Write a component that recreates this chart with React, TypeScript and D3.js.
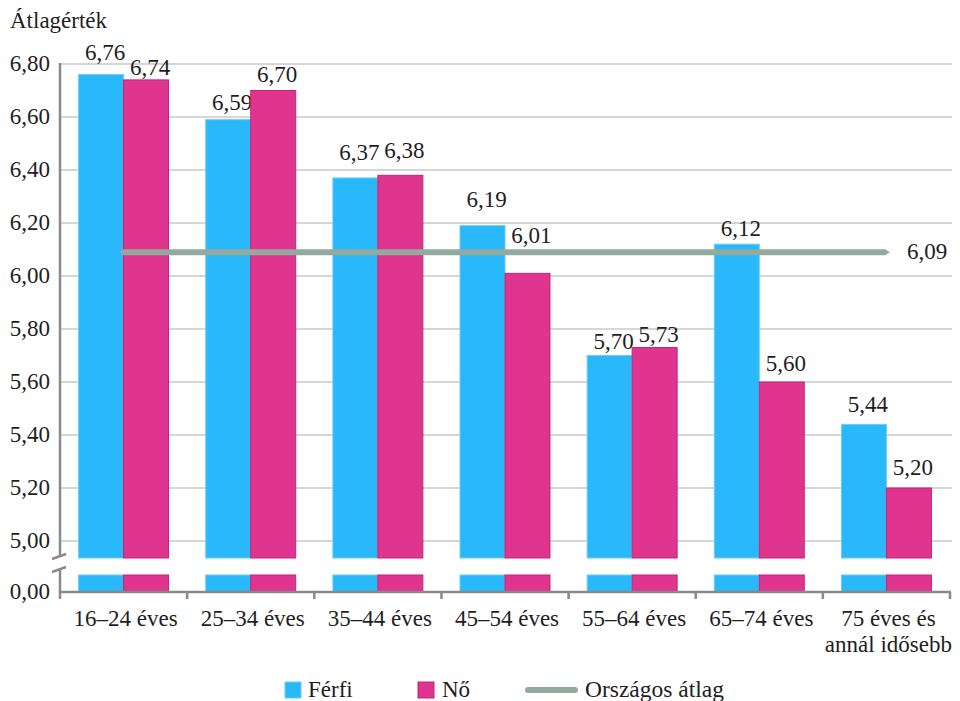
import * as d3 from "d3";

const categories = [
  "16–24 éves",
  "25–34 éves",
  "35–44 éves",
  "45–54 éves",
  "55–64 éves",
  "65–74 éves",
  "75 éves és\nannál idősebb",
];
const ferfi = [6.76, 6.59, 6.37, 6.19, 5.7, 6.12, 5.44];
const no = [6.74, 6.7, 6.38, 6.01, 5.73, 5.6, 5.2];
const orszagosAtlag = 6.09;
const yTicks = [5.0, 5.2, 5.4, 5.6, 5.8, 6.0, 6.2, 6.4, 6.6, 6.8];
const seriesKeys = ["ferfi", "no"];

// label gap above the bar top (the original places some by hand)
const ferfiGap = [15, 10, 18, 19, 7, 8, 12];
const noGap = [5, 9, 17, 30, 6, 11, 13];

const W = 960;
const H = 701;
const left = 60;
const right = 950;
const top = 64;
const base5 = 541; // y of 5,00
const breakTop = 558;
const breakBottom = 575;
const zeroY = 592;

const BLUE = "#29b8fa";
const BLUE_EDGE = "#6acdf8";
const PINK = "#e0358f";
const PINK_EDGE = "#c4237a";
const AVG = "#93aa9f";
const GRID = "#c9c9c9";
const AXIS = "#8a8a8a";
const TEXT = "#1e1e1e";
const FONT = "Liberation Serif, DejaVu Serif, Times New Roman, serif";
const FS = 23;

const fmt = (v: number) => v.toFixed(2).replace(".", ",");

export default function App() {
  const x = d3.scaleBand<string>().domain(categories).range([left, right]);
  const inner = d3
    .scaleBand<string>()
    .domain(seriesKeys)
    .range([0, x.bandwidth()])
    .paddingOuter(0.413);
  const y = d3.scaleLinear().domain([5, 6.8]).range([base5, top]);

  const bars = categories.flatMap((c, i) => [
    { c, key: "ferfi", v: ferfi[i], gap: ferfiGap[i], fill: BLUE, edge: BLUE_EDGE },
    { c, key: "no", v: no[i], gap: noGap[i], fill: PINK, edge: PINK_EDGE },
  ]);

  const mid = (c: string) => (x(c) ?? 0) + x.bandwidth() / 2;
  const avgX0 = mid(categories[0]);
  const avgX1 = mid(categories[categories.length - 1]);
  const avgY = y(orszagosAtlag);

  return (
    <div style={{ position: "absolute", left: 0, top: 0 }}>
      <svg width={W} height={H} style={{ display: "block" }}>
        <rect width={W} height={H} fill="#fff" />
        <g fontFamily={FONT} fontSize={FS} fill={TEXT}>
          {/* grid */}
          {yTicks.map((t) => (
            <line key={t} x1={left} x2={right + 2} y1={y(t)} y2={y(t)} stroke={GRID} strokeWidth={1.3} />
          ))}

          {/* bars: upper part and stub below the break */}
          {bars.map((b) => {
            const bx = (x(b.c) ?? 0) + (inner(b.key) ?? 0);
            const bw = inner.bandwidth();
            return (
              <g key={b.c + b.key}>
                <rect x={bx} y={y(b.v)} width={bw} height={breakTop - y(b.v)} fill={b.fill} stroke={b.edge} strokeWidth={1} />
                <rect x={bx} y={breakBottom} width={bw} height={zeroY - breakBottom} fill={b.fill} stroke={b.edge} strokeWidth={1} />
                <text x={bx + bw / 2 + 4} y={y(b.v) - b.gap} textAnchor="middle">
                  {fmt(b.v)}
                </text>
              </g>
            );
          })}

          {/* national average */}
          <line x1={avgX0} x2={avgX1 - 2} y1={avgY} y2={avgY} stroke={AVG} strokeWidth={6} strokeLinecap="round" />
          <path d={`M${avgX1 - 3},${avgY - 3} L${avgX1 + 4},${avgY} L${avgX1 - 3},${avgY + 3} Z`} fill={AVG} />
          <text x={907} y={avgY + 7}>{fmt(orszagosAtlag)}</text>

          {/* y axis with break */}
          <line x1={left} x2={left} y1={top - 1} y2={breakTop - 1} stroke={AXIS} strokeWidth={2.5} />
          <line x1={left} x2={left} y1={breakBottom - 6} y2={zeroY} stroke={AXIS} strokeWidth={2.5} />
          <line x1={52} x2={66} y1={559} y2={554} stroke={AXIS} strokeWidth={2.5} />
          <line x1={52} x2={66} y1={572} y2={567} stroke={AXIS} strokeWidth={2.5} />
          {yTicks.map((t) => (
            <text key={t} x={50} y={y(t) + 7} textAnchor="end">
              {fmt(t)}
            </text>
          ))}
          <text x={50} y={zeroY + 7} textAnchor="end">{fmt(0)}</text>
          <text x={10} y={28}>Átlagérték</text>

          {/* x axis */}
          <line x1={left - 1} x2={right + 1} y1={zeroY} y2={zeroY} stroke={AXIS} strokeWidth={2.5} />
          {[...categories.map((c) => x(c) ?? 0), right].map((tx, i) => (
            <line key={i} x1={tx} x2={tx} y1={zeroY} y2={zeroY + 7} stroke={AXIS} strokeWidth={2.5} />
          ))}
          {categories.map((c) => (
            <text key={c} x={mid(c) + 2} y={626} textAnchor="middle">
              {c.split("\n").map((ln, j) => (
                <tspan key={j} x={mid(c) + 2} dy={j === 0 ? 0 : 26}>
                  {ln}
                </tspan>
              ))}
            </text>
          ))}

          {/* legend */}
          <rect x={285} y={682} width={16} height={16} fill={BLUE} stroke={BLUE_EDGE} />
          <text x={308} y={697}>Férfi</text>
          <rect x={418} y={682} width={16} height={16} fill={PINK} stroke={PINK_EDGE} />
          <text x={442} y={697}>Nő</text>
          <line x1={528} x2={575} y1={690} y2={690} stroke={AVG} strokeWidth={6} strokeLinecap="round" />
          <text x={585} y={697} fontSize={23.5}>Országos átlag</text>
        </g>
      </svg>
    </div>
  );
}
